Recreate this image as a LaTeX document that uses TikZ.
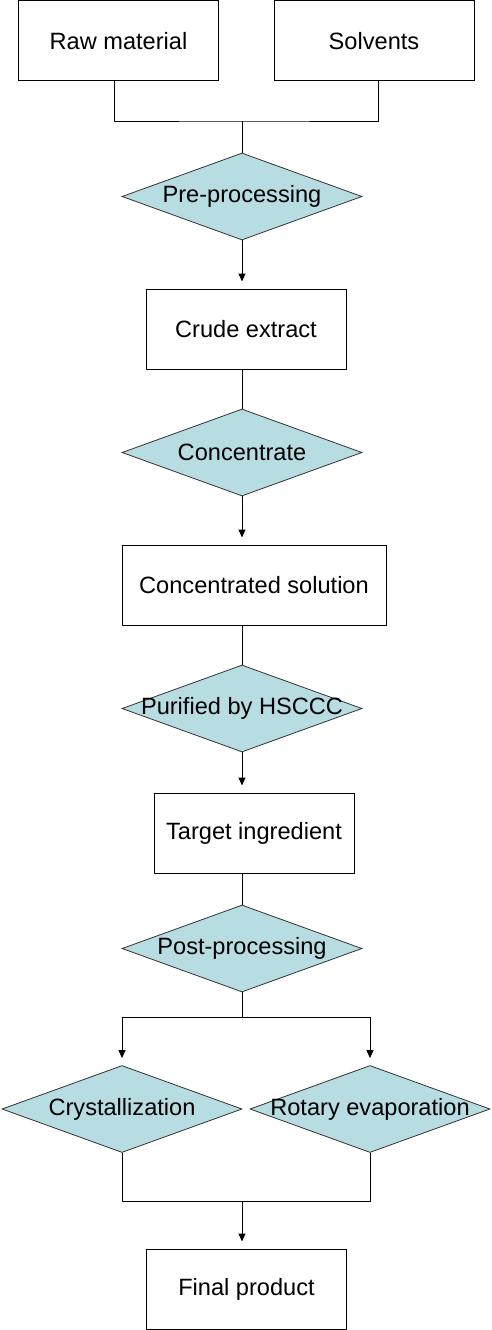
\documentclass[tikz,border=0pt]{standalone}
\usepackage{fontspec}
\setmainfont{Liberation Sans}
\usepackage{tikz}
\usetikzlibrary{shapes.geometric, arrows.meta, positioning, calc}
\definecolor{decisioncolor}{RGB}{183,221,226}

\begin{document}
\begin{tikzpicture}[
    x=1pt, y=-1pt,
    font=\fontsize{23.6}{28}\selectfont,
    procbox/.style={draw, line width=1pt, minimum width=200pt, minimum height=80pt, inner sep=0pt, align=center},
    decision/.style={diamond, draw=black!80, line width=0.8pt, fill=decisioncolor, minimum width=240pt, minimum height=87pt, inner sep=0pt, label={center:#1}},
    link/.style={line width=1pt},
    arrow/.style={-{Triangle[length=8pt, width=7pt]}, line width=1pt, shorten >=7pt}
]
    \useasboundingbox (0,0) rectangle (492,1330);

    % Inputs
    \node[procbox] (raw) at (118.5,40.75) {Raw material};
    \node[procbox] (solv) at (374,40.75) {Solvents};
    \coordinate (jin) at (242,121);

    % Main line
    \node[decision=Pre-processing] (pre) at (242,196.5) {};
    \node[procbox] (crude) at (246,329) {Crude extract};
    \node[decision=Concentrate] (conc) at (242,452.5) {};
    \node[procbox, minimum width=264pt] (csol) at (254,585) {Concentrated solution};
    \node[decision=Purified by HSCCC] (hsccc) at (242,708.5) {};
    \node[procbox] (target) at (254,833) {Target ingredient};
    \node[decision=Post-processing] (post) at (242,948.5) {};

    % Split and merge
    \coordinate (jsplit) at (242,1017);
    \node[decision=Crystallization] (cryst) at (122,1109) {};
    \node[decision=Rotary evaporation] (rotary) at (370,1109) {};
    \coordinate (jmerge) at (242,1201);
    \node[procbox] (final) at (246.5,1289) {Final product};

    % Connectors
    \draw[link] ([xshift=-4.5pt]raw.south) |- (jin) -| ([xshift=4pt]solv.south);
    \draw[link] (jin) -- (pre.north);
    \draw[arrow] (pre.south) -- (pre.south |- crude.north);
    \draw[link] (crude.south -| conc.north) -- (conc.north);
    \draw[arrow] (conc.south) -- (conc.south |- csol.north);
    \draw[link] (csol.south -| hsccc.north) -- (hsccc.north);
    \draw[arrow] (hsccc.south) -- (hsccc.south |- target.north);
    \draw[link] (target.south -| post.north) -- (post.north);
    \draw[link] (post.south) -- (jsplit);
    \draw[arrow] (jsplit) -| (cryst.north);
    \draw[arrow] (jsplit) -| (rotary.north);
    \draw[link] (cryst.south) |- (jmerge) -| (rotary.south);
    \draw[arrow] (jmerge) -- (jmerge |- final.north);
\end{tikzpicture}
\end{document}
